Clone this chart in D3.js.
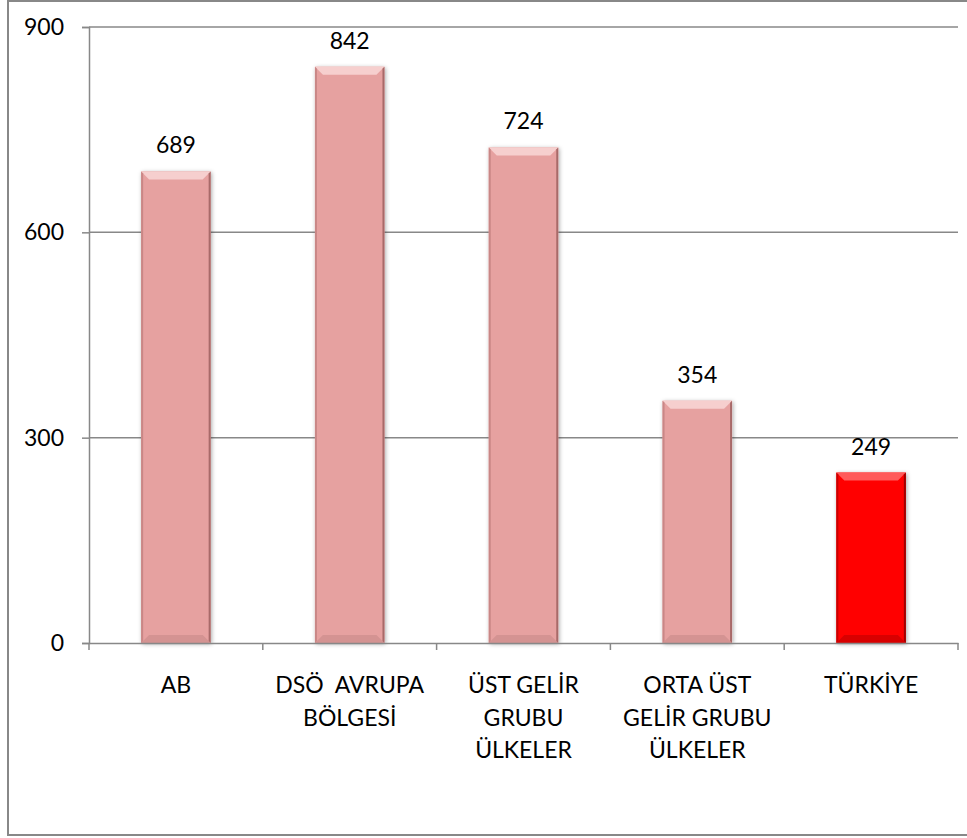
<!DOCTYPE html>
<html>
<head>
<meta charset="utf-8">
<script src="https://cdn.jsdelivr.net/npm/d3@7"></script>
<style>
  html, body { margin: 0; padding: 0; background: #fff; }
  svg { display: block; }
  text { font-family: Lato, "Open Sans", sans-serif; fill: #000; }
</style>
</head>
<body>
<svg id="chart" width="967" height="838"></svg>
<script>
// Category labels (one entry per wrapped line) and values
const categories = ["AB", "DSÖ AVRUPA", "ÜST GELİR GRUBU ÜLKELER", "ORTA ÜST GELİR GRUBU ÜLKELER", "TÜRKİYE"];
const categoryLines = [
  ["AB"],
  ["DSÖ  AVRUPA", "BÖLGESİ"],
  ["ÜST GELİR", "GRUBU", "ÜLKELER"],
  ["ORTA ÜST", "GELİR GRUBU", "ÜLKELER"],
  ["TÜRKİYE"]
];
const values = [689, 842, 724, 354, 249];
const highlight = [false, false, false, false, true];
const yTicks = [0, 300, 600, 900];

const svg = d3.select("#chart");
const plot = { left: 89, right: 958, top: 27, bottom: 643 };
const fontSize = 23;

const x = d3.scaleBand()
  .domain(categories)
  .range([plot.left, plot.right])
  .paddingInner(0.6)
  .paddingOuter(0.3);
const y = d3.scaleLinear().domain([0, 900]).range([plot.bottom, plot.top]);

const axisGray = "#888888";

// outer frame (right edge runs past the canvas)
svg.append("rect")
  .attr("x", 8).attr("y", 1).attr("width", 965).attr("height", 834)
  .attr("fill", "none").attr("stroke", axisGray).attr("stroke-width", 2);

// drop shadow for bevelled bars
const defs = svg.append("defs");
const sh = defs.append("filter").attr("id", "shadow")
  .attr("x", "-20%").attr("y", "-10%").attr("width", "140%").attr("height", "120%");
sh.append("feDropShadow").attr("dx", 1).attr("dy", 1).attr("stdDeviation", 2.2)
  .attr("flood-color", "#000").attr("flood-opacity", 0.35);

// gridlines
svg.append("g")
  .selectAll("line")
  .data(yTicks.filter(d => d > 0))
  .join("line")
  .attr("x1", plot.left).attr("x2", plot.right)
  .attr("y1", d => y(d)).attr("y2", d => y(d))
  .attr("stroke", axisGray).attr("stroke-width", 1.5);

// y axis
const yAxis = svg.append("g")
  .attr("transform", `translate(${plot.left},0)`)
  .call(d3.axisLeft(y).tickValues(yTicks).tickSize(7).tickPadding(18).tickFormat(d3.format("d")));
yAxis.select(".domain").attr("stroke", axisGray).attr("stroke-width", 1.5);
yAxis.selectAll(".tick line").attr("stroke", axisGray).attr("stroke-width", 1.5);
yAxis.selectAll(".tick text")
  .attr("font-size", fontSize).attr("font-family", "Lato, 'Open Sans', sans-serif").attr("fill", "#000");

// bars
const bw = x.bandwidth();
const bev = 8;
const bars = svg.append("g").selectAll("g.bar")
  .data(values.map((v, i) => ({ v, cat: categories[i], hi: highlight[i] })))
  .join("g").attr("class", "bar");

bars.append("rect")
  .attr("x", d => x(d.cat)).attr("y", d => y(d.v))
  .attr("width", bw).attr("height", d => y(0) - y(d.v))
  .attr("fill", d => d.hi ? "#FF0000" : "#E6A1A0")
  .attr("filter", "url(#shadow)");

// top bevel (lighter)
bars.append("path")
  .attr("d", d => {
    const x0 = x(d.cat), x1 = x0 + bw, t = y(d.v);
    return `M${x0},${t}L${x1},${t}L${x1 - bev},${t + bev}L${x0 + bev},${t + bev}Z`;
  })
  .attr("fill", d => d.hi ? "#FF5A5A" : "#F6CFCE");
// bottom bevel (darker)
bars.append("path")
  .attr("d", d => {
    const x0 = x(d.cat), x1 = x0 + bw, b = y(0);
    return `M${x0},${b}L${x1},${b}L${x1 - bev},${b - bev}L${x0 + bev},${b - bev}Z`;
  })
  .attr("fill", d => d.hi ? "#D80000" : "#D49392");
// side edges
bars.append("path")
  .attr("d", d => {
    const x0 = x(d.cat), t = y(d.v), b = y(0);
    return `M${x0},${t}L${x0 + 2},${t + 2}L${x0 + 2},${b - 2}L${x0},${b}Z`;
  })
  .attr("fill", d => d.hi ? "#C80000" : "#C98786");
bars.append("path")
  .attr("d", d => {
    const x1 = x(d.cat) + bw, t = y(d.v), b = y(0);
    return `M${x1},${t}L${x1 - 2},${t + 2}L${x1 - 2},${b - 2}L${x1},${b}Z`;
  })
  .attr("fill", d => d.hi ? "#A00000" : "#A86a69");

// value labels
bars.append("text")
  .attr("x", d => x(d.cat) + bw / 2)
  .attr("y", d => y(d.v) - 18)
  .attr("text-anchor", "middle")
  .attr("font-size", fontSize)
  .text(d => d.v);

// x axis
const xAxis = svg.append("g")
  .attr("transform", `translate(0,${plot.bottom})`)
  .call(d3.axisBottom(x).tickSize(0).tickFormat(""));
xAxis.select(".domain").attr("stroke", axisGray).attr("stroke-width", 1.5);
xAxis.selectAll(".tick").remove();

// category separators
const step = (plot.right - plot.left) / categories.length;
svg.append("g").selectAll("line")
  .data(d3.range(categories.length + 1))
  .join("line")
  .attr("x1", i => plot.left + i * step).attr("x2", i => plot.left + i * step)
  .attr("y1", plot.bottom).attr("y2", plot.bottom + 7)
  .attr("stroke", axisGray).attr("stroke-width", 1.5);

// category labels
const labels = svg.append("g").selectAll("text")
  .data(categories.map((c, i) => ({ c, lines: categoryLines[i] })))
  .join("text")
  .attr("text-anchor", "middle")
  .attr("font-size", fontSize)
  .attr("xml:space", "preserve")
  .style("white-space", "pre");
labels.selectAll("tspan")
  .data(d => d.lines.map(l => ({ l, cx: x(d.c) + bw / 2 })))
  .join("tspan")
  .attr("x", d => d.cx)
  .attr("y", (d, i) => 693 + i * 32.5)
  .text(d => d.l);
</script>
</body>
</html>
